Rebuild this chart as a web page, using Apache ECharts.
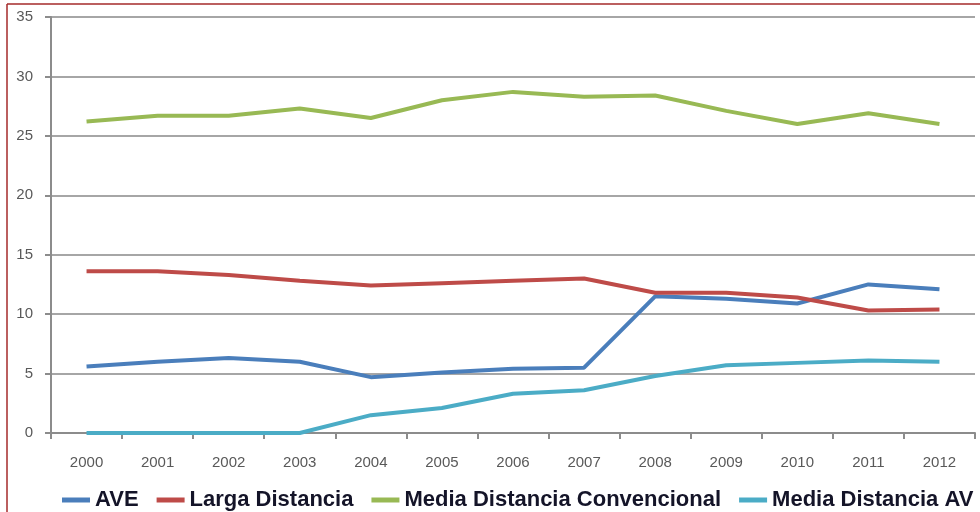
<!DOCTYPE html>
<html><head><meta charset="utf-8">
<script src="https://cdn.jsdelivr.net/npm/echarts@6/dist/echarts.min.js"></script>
<style>html,body{margin:0;padding:0;background:#fff}#c{width:980px;height:512px}</style>
</head><body><div id="c"></div>
<script>
const years = ['2000','2001','2002','2003','2004','2005','2006','2007','2008','2009','2010','2011','2012'];
const ave = [5.6, 6.0, 6.3, 6.0, 4.7, 5.1, 5.4, 5.5, 11.5, 11.3, 10.9, 12.5, 12.1];
const largaDistancia = [13.6, 13.6, 13.3, 12.8, 12.4, 12.6, 12.8, 13.0, 11.8, 11.8, 11.4, 10.3, 10.4];
const mediaConvencional = [26.2, 26.7, 26.7, 27.3, 26.5, 28.0, 28.7, 28.3, 28.4, 27.1, 26.0, 26.9, 26.0];
const mediaAV = [0, 0, 0, 0, 1.5, 2.1, 3.3, 3.6, 4.8, 5.7, 5.9, 6.1, 6.0];
const seriesNames = ['AVE', 'Larga Distancia', 'Media Distancia Convencional', 'Media Distancia AV'];
const colors = ['#4a7ebb', '#be4b48', '#98b954', '#4bacc6'];
const seriesData = [ave, largaDistancia, mediaConvencional, mediaAV];

const chart = echarts.init(document.getElementById('c'), null, {renderer: 'canvas'});
chart.setOption({
  animation: false,
  backgroundColor: '#fff',
  grid: {left: 51, right: 5, top: 17, bottom: 79, containLabel: false},
  legend: {
    top: 489, left: 62, width: 918, padding: 0,
    itemWidth: 28, itemHeight: 5, itemGap: 18,
    icon: 'rect',
    textStyle: {fontFamily: 'Liberation Sans', fontWeight: 'bold', fontSize: 22, color: '#141428'},
    data: seriesNames
  },
  xAxis: {
    type: 'category', data: years, boundaryGap: true,
    axisLine: {lineStyle: {color: '#8c8c8c', width: 2}},
    axisTick: {show: true, length: 6, lineStyle: {color: '#8c8c8c', width: 2}},
    axisLabel: {color: '#595959', fontFamily: 'Liberation Sans', fontSize: 15, margin: 22}
  },
  yAxis: {
    type: 'value', min: 0, max: 35, interval: 5,
    axisLine: {show: true, lineStyle: {color: '#8c8c8c', width: 2}},
    axisTick: {show: true, length: 6, lineStyle: {color: '#8c8c8c', width: 2}},
    axisLabel: {color: '#595959', fontFamily: 'Liberation Sans', fontSize: 15, margin: 18},
    splitLine: {lineStyle: {color: '#a6a6a6', width: 2}}
  },
  graphic: [
    {type: 'line', shape: {x1: 7, y1: 4, x2: 980, y2: 4}, style: {stroke: '#a52a2a', lineWidth: 1.5}, z: 100},
    {type: 'line', shape: {x1: 7, y1: 4, x2: 7, y2: 512}, style: {stroke: '#a52a2a', lineWidth: 1.5}, z: 100}
  ],
  series: seriesNames.map((n, i) => ({
    name: n, type: 'line', data: seriesData[i],
    showSymbol: false, symbol: 'none',
    lineStyle: {color: colors[i], width: 4},
    itemStyle: {color: colors[i]}
  }))
});
</script></body></html>
